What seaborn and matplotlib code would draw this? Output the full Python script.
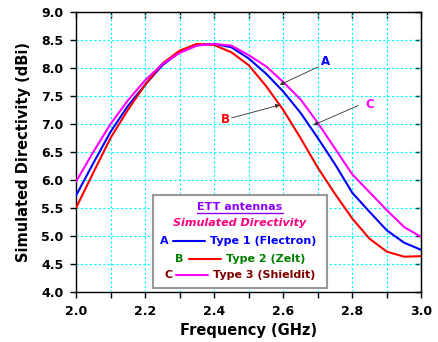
# Directividad simulada de antenas ETT
import seaborn as sns
import matplotlib.pyplot as plt
from matplotlib.patches import Rectangle
from matplotlib.ticker import MultipleLocator, NullFormatter
import pandas as pd

# Datos
# ------------------------------------------------------------------------------
frecuencia = [2.00, 2.05, 2.10, 2.15, 2.20, 2.25, 2.30, 2.35, 2.40, 2.45, 2.50,
              2.55, 2.60, 2.65, 2.70, 2.75, 2.80, 2.85, 2.90, 2.95, 3.00]
tipo1 = [5.72, 6.30, 6.86, 7.32, 7.70, 8.05, 8.28, 8.41, 8.43, 8.37, 8.17,
         7.90, 7.58, 7.20, 6.75, 6.28, 5.77, 5.43, 5.10, 4.88, 4.75]
tipo2 = [5.50, 6.13, 6.75, 7.25, 7.70, 8.08, 8.31, 8.43, 8.41, 8.28, 8.05,
         7.68, 7.25, 6.75, 6.22, 5.75, 5.31, 4.95, 4.72, 4.63, 4.64]
tipo3 = [5.97, 6.50, 7.00, 7.42, 7.78, 8.07, 8.27, 8.40, 8.43, 8.40, 8.23,
         8.03, 7.75, 7.44, 7.02, 6.56, 6.10, 5.78, 5.46, 5.16, 4.98]

letras = ["A", "B", "C"]
etiquetas = ["Type 1 (Flectron)", "Type 2 (Zelt)", "Type 3 (Shieldit)"]
colores_linea = ["#0000FF", "#FF0000", "#FF00FF"]
colores_texto = ["#0000FF", "#008000", "#800000"]

df = pd.DataFrame({"freq": frecuencia, "A": tipo1, "B": tipo2, "C": tipo3})

sns.set_style("ticks")
plt.rcParams['font.family'] = ['DejaVu Sans']
plt.rcParams['font.weight'] = 'bold'
plt.rcParams['text.color'] = 'black'
plt.rcParams['axes.labelcolor'] = 'black'
plt.rcParams['xtick.color'] = 'black'
plt.rcParams['ytick.color'] = 'black'

fig = plt.figure(figsize=(4.39, 3.42), dpi=100)
ax = fig.add_axes([0.1731, 0.1462, 0.7869, 0.8187])

for letra, color in zip(letras, colores_linea):
    sns.lineplot(x="freq", y=letra, data=df, ax=ax, color=color, linewidth=1.5, zorder=3)

ax.set_xlim(2.0, 3.0)
ax.set_ylim(4.0, 9.0)
ax.xaxis.set_major_locator(MultipleLocator(0.2))
ax.xaxis.set_minor_locator(MultipleLocator(0.1))
ax.yaxis.set_major_locator(MultipleLocator(0.5))
ax.xaxis.set_major_formatter(plt.FuncFormatter(lambda v, p: f"{v:.1f}"))
ax.yaxis.set_major_formatter(plt.FuncFormatter(lambda v, p: f"{v:.1f}"))

ax.grid(which='both', axis='x', color='#00FFFF', linestyle=(0, (2, 2)), linewidth=0.8, zorder=0)
ax.grid(which='major', axis='y', color='#00FFFF', linestyle=(0, (2, 2)), linewidth=0.8, zorder=0)

ax.tick_params(which='both', direction='out', width=1, color='black', labelcolor='black', labelsize=9)
ax.tick_params(axis='x', which='both', length=4, pad=5.5)
ax.tick_params(axis='y', which='both', length=4, pad=5)
for lado in ax.spines.values():
    lado.set_linewidth(1.0)
    lado.set_color('black')

# Marcas interiores arriba y a la derecha
arriba = ax.secondary_xaxis('top')
arriba.xaxis.set_major_locator(MultipleLocator(0.1))
arriba.xaxis.set_major_formatter(NullFormatter())
arriba.tick_params(direction='in', length=4, width=1, color='black')
derecha = ax.secondary_yaxis('right')
derecha.yaxis.set_major_locator(MultipleLocator(0.5))
derecha.yaxis.set_major_formatter(NullFormatter())
derecha.tick_params(direction='in', length=4, width=1, color='black')

ax.set_xlabel("Frequency (GHz)", fontsize=10.5, fontweight='bold', labelpad=3.5, color='black')
ax.set_ylabel("Simulated Directivity (dBi)", fontsize=10.5, fontweight='bold', labelpad=7.5, color='black')

# Flechas con letras
flechas = [("A", (2.721, 8.11), (2.701, 8.02), (2.590, 7.70), "#0000FF"),
           ("B", (2.431, 7.08), (2.451, 7.11), (2.590, 7.34), "#FF0000"),
           ("C", (2.851, 7.34), (2.817, 7.33), (2.687, 6.98), "#FF00FF")]
for letra, pos_texto, cola, punta, color in flechas:
    ax.annotate("", xy=punta, xytext=cola,
                arrowprops=dict(arrowstyle='-|>', color='#303030', lw=0.6,
                                mutation_scale=6, shrinkA=0, shrinkB=0), zorder=4)
    ax.text(pos_texto[0], pos_texto[1], letra, color=color, fontsize=8.5,
            fontweight='bold', ha='center', va='center', zorder=4)

# Cuadro de leyenda hecho a mano
ax.add_patch(Rectangle((0.2229, 0.0143), 0.5036, 0.3321, transform=ax.transAxes,
                       facecolor='white', edgecolor='#999999', linewidth=1.5, zorder=5))
titulo = ax.text(0.475, 0.3046, "ETT antennas", transform=ax.transAxes, color='#8B00FF',
                 fontsize=8, fontweight='bold', ha='center', va='center', zorder=6)
ax.text(0.475, 0.2454, "Simulated Directivity", transform=ax.transAxes, color='#FF0080',
        fontsize=8, fontweight='bold', style='italic', ha='center', va='center', zorder=6)

filas_y = [0.182, 0.118, 0.061]
letra_x = [0.2547, 0.298, 0.268]
linea_x = [(0.2808, 0.3734), (0.327, 0.4197), (0.2894, 0.382)]
texto_x = [0.3878, 0.434, 0.3965]
for i in range(3):
    ax.text(letra_x[i], filas_y[i], letras[i], transform=ax.transAxes, color=colores_texto[i],
            fontsize=8, fontweight='bold', ha='center', va='center', zorder=6)
    ax.plot(linea_x[i], [filas_y[i], filas_y[i]], transform=ax.transAxes,
            color=colores_linea[i], linewidth=1.5, zorder=6)
    ax.text(texto_x[i], filas_y[i], etiquetas[i], transform=ax.transAxes, color=colores_texto[i],
            fontsize=8, fontweight='bold', ha='left', va='center', zorder=6)

# Subrayado del titulo
fig.canvas.draw()
caja = titulo.get_window_extent().transformed(ax.transAxes.inverted())
ax.plot([caja.x0, caja.x1], [caja.y0 - 0.004, caja.y0 - 0.004], transform=ax.transAxes,
        color='#8B00FF', linewidth=1.0, zorder=6)

fig.savefig("out.png", dpi=100)
